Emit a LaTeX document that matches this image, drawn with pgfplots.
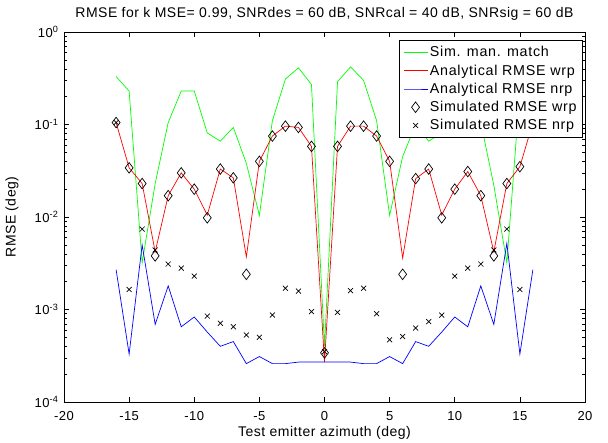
\documentclass[border=0pt]{standalone}
\usepackage{fontspec}
\setmainfont{Liberation Sans}
\newfontfamily\spacedfont[LetterSpace=3.5]{Liberation Sans}
\newfontfamily\legendfont[LetterSpace=5]{Liberation Sans}
\usepackage{pgfplots}
\pgfplotsset{compat=1.18}
\usepackage{pgfplotstable}

% RMSE versus test emitter azimuth
% sim    : simulated manifold match
% anawrp : analytical RMSE, with reference point
% ananrp : analytical RMSE, no reference point
% simwrp : simulated RMSE, with reference point
% simnrp : simulated RMSE, no reference point
\pgfplotstableread{
az  sim      anawrp   ananrp   simwrp   simnrp
-16 0.33     0.105    0.0027   0.105    0.105
-15 0.23     0.034    0.00033  0.034    0.00165
-14 0.0032   0.023    0.0050   0.023    0.0074
-13 0.023    0.0042   0.00069  0.0038   0.0044
-12 0.105    0.017    0.0018   0.017    0.0031
-11 0.23     0.030    0.00065  0.030    0.0028
-10 0.23     0.020    0.00083  0.020    0.0023
-9  0.081    0.0105   0.00057  0.0098   0.00085
-8  0.066    0.033    0.00040  0.033    0.00071
-7  0.093    0.0265   0.00045  0.0265   0.00065
-6  0.038    0.0037   0.00026  0.0024   0.00053
-5  0.0104   0.040    0.00031  0.040    0.00050
-4  0.11     0.075    0.00026  0.075    0.00087
-3  0.31     0.096    0.00026  0.096    0.0017
-2  0.41     0.093    0.00027  0.093    0.00158
-1  0.27     0.058    0.00027  0.058    0.00095
0   0.00040  0.00027  0.00027  0.00034  0.00035
1   0.29     0.058    0.00027  0.058    0.00093
2   0.42     0.096    0.00027  0.096    0.0016
3   0.30     0.096    0.00026  0.096    0.0017
4   0.11     0.075    0.00026  0.075    0.00090
5   0.0104   0.040    0.00031  0.040    0.00047
6   0.045    0.0036   0.00026  0.0024   0.00051
7   0.10     0.026    0.00045  0.026    0.00063
8   0.066    0.033    0.00040  0.033    0.00074
9   0.081    0.0105   0.00057  0.0098   0.00087
10  0.23     0.020    0.00083  0.020    0.0023
11  0.23     0.031    0.00065  0.031    0.0028
12  0.105    0.017    0.0018   0.017    0.0031
13  0.022    0.0042   0.00069  0.0038   0.0044
14  0.0032   0.023    0.0052   0.023    0.0074
15  0.23     0.035    0.00033  0.035    0.00165
16  0.33     0.105    0.0027   0.105    0.105
}\rmsedata

\begin{document}
\begin{tikzpicture}
\begin{axis}[
  scale only axis,
  width=521pt, height=370pt,
  xmin=-20, xmax=20,
  ymode=log, ymin=1e-4, ymax=1,
  xtick={-20,-15,-10,-5,0,5,10,15,20},
  xticklabels={-20,-15,-10,-5,0,5,10,15,20},
  ytick={1e-4,1e-3,1e-2,1e-1,1},
  yticklabels={10\textsuperscript{-4},10\textsuperscript{-3},10\textsuperscript{-2},10\textsuperscript{-1},10\textsuperscript{0}},
  tick align=inside,
  major tick length=5pt, minor tick length=3pt,
  tick style={black, line width=0.6pt},
  axis line style={black, line width=0.8pt},
  tick label style={font=\spacedfont\fontsize{13}{15}\selectfont},
  xticklabel style={anchor=base, yshift=-19pt},
  yticklabel style={anchor=east, xshift=-2pt},
  title={RMSE for k MSE= 0.99, SNRdes = 60 dB, SNRcal = 40 dB, SNRsig = 60 dB},
  every axis title/.style={at={(axis description cs:0.5,1)}, anchor=base, yshift=14pt, font=\spacedfont\fontsize{14}{16}\selectfont},
  xlabel={Test emitter azimuth (deg)},
  every axis x label/.style={at={(axis description cs:0.5,0)}, anchor=base, yshift=-35pt, font=\spacedfont\fontsize{14}{16}\selectfont},
  ylabel={RMSE (deg)},
  every axis y label/.style={at={(axis description cs:-0.0998,0.5)}, rotate=90, anchor=center, font=\spacedfont\fontsize{14}{16}\selectfont},
  legend style={at={(axis description cs:0.996,0.978)}, anchor=north east,
    draw=black, line width=0.8pt, fill=white, font=\legendfont\fontsize{14.3}{16}\selectfont,
    row sep=2.4pt, inner sep=4pt, cells={anchor=west}},
  legend image code/.code={\draw[mark repeat=2, mark phase=2, #1] plot coordinates {(0pt,0pt) (12pt,0pt) (24pt,0pt)};},
]
\addplot[green, line width=0.7pt] table[x=az, y=sim] {\rmsedata};
\addlegendentry{Sim. man. match}
\addplot[red, line width=0.7pt] table[x=az, y=anawrp] {\rmsedata};
\addlegendentry{Analytical RMSE wrp}
\addplot[blue, line width=0.7pt] table[x=az, y=ananrp] {\rmsedata};
\addlegendentry{Analytical RMSE nrp}
\addplot[only marks, mark=diamond, mark size=5.3pt, mark options={black, line width=0.7pt, fill=none}] table[x=az, y=simwrp] {\rmsedata};
\addlegendentry{Simulated RMSE wrp}
\addplot[only marks, mark=x, mark size=3.5pt, mark options={black, line width=0.7pt}] table[x=az, y=simnrp] {\rmsedata};
\addlegendentry{Simulated RMSE nrp}
\coordinate (sw) at (rel axis cs:0,0);
\end{axis}
\pgfresetboundingbox
\useasboundingbox (sw) ++(-64pt,-41pt) rectangle ++(608pt,443pt);
\end{tikzpicture}
\end{document}
